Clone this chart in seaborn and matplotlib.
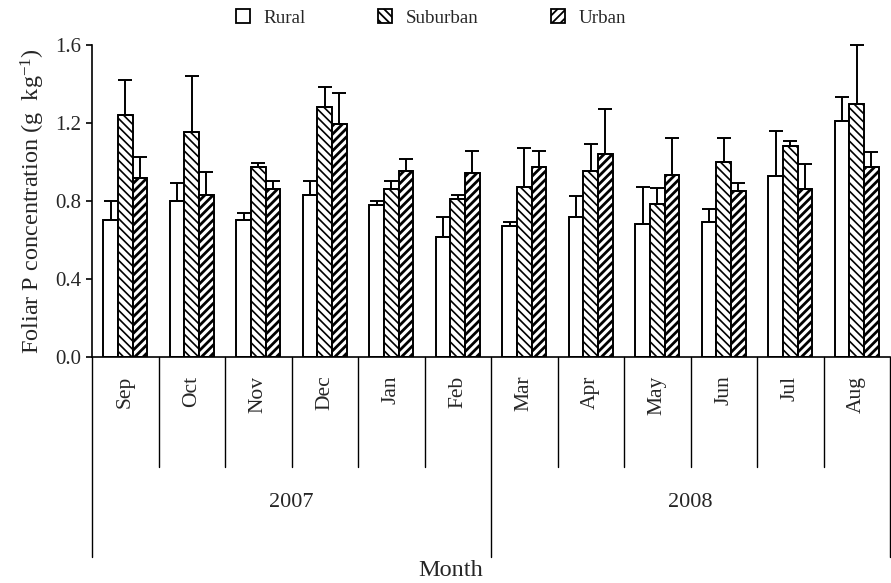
import pandas as pd
import numpy as np
import matplotlib
matplotlib.use('Agg')
import matplotlib.pyplot as plt
import matplotlib.transforms as mtransforms
from matplotlib.patches import Patch
import seaborn as sns

# values (g kg-1), error bars are one-sided (upper)
months = ['Sep', 'Oct', 'Nov', 'Dec', 'Jan', 'Feb', 'Mar', 'Apr', 'May', 'Jun', 'Jul', 'Aug']
years = ['2007', '2008']
sites = ['Rural', 'Suburban', 'Urban']

rural = [0.70, 0.80, 0.70, 0.83, 0.78, 0.615, 0.67, 0.72, 0.68, 0.69, 0.93, 1.21]
rural_err = [0.10, 0.09, 0.04, 0.07, 0.02, 0.105, 0.02, 0.105, 0.19, 0.07, 0.23, 0.125]
suburban = [1.24, 1.155, 0.975, 1.28, 0.86, 0.81, 0.87, 0.955, 0.785, 1.00, 1.08, 1.30]
suburban_err = [0.18, 0.285, 0.02, 0.105, 0.04, 0.02, 0.20, 0.135, 0.08, 0.125, 0.03, 0.30]
urban = [0.92, 0.83, 0.86, 1.195, 0.955, 0.945, 0.975, 1.04, 0.935, 0.85, 0.86, 0.975]
urban_err = [0.105, 0.12, 0.04, 0.16, 0.06, 0.11, 0.08, 0.23, 0.19, 0.04, 0.13, 0.075]

yticks = [0.0, 0.4, 0.8, 1.2, 1.6]

sns.set_theme(style='ticks')
plt.rcParams['font.family'] = ['Liberation Serif', 'DejaVu Serif']
plt.rcParams['mathtext.fontset'] = 'custom'
plt.rcParams['mathtext.rm'] = 'Liberation Serif'
plt.rcParams['mathtext.it'] = 'Liberation Serif:italic'
plt.rcParams['hatch.linewidth'] = 1.3
plt.rcParams['hatch.color'] = 'black'

df = pd.DataFrame({
    'Month': months * 3,
    'Site': [s for s in sites for _ in months],
    'Value': rural + suburban + urban,
})
errs = [rural_err, suburban_err, urban_err]
hatches = ['', '\\\\\\\\', '////']
hatch_lw = [1.0, 1.2, 2.0]

fig = plt.figure(figsize=(8.91, 5.83), dpi=100)
ax = fig.add_axes([0.1033, 0.3877, 0.8956, 0.5351])

sns.barplot(data=df, x='Month', y='Value', hue='Site', order=months, hue_order=sites,
            palette=['white'] * 3, saturation=1, edgecolor='black', linewidth=1.4,
            width=0.66, errorbar=None, legend=False, ax=ax)

for cont, h, hl, err in zip(ax.containers, hatches, hatch_lw, errs):
    xs, hs = [], []
    for bar in cont:
        bar.set_hatch(h)
        bar.set_edgecolor('black')
        if hasattr(bar, 'set_hatch_linewidth'):
            bar.set_hatch_linewidth(hl)
        xs.append(bar.get_x() + bar.get_width() / 2)
        hs.append(bar.get_height())
    ax.errorbar(xs, hs, yerr=[np.zeros(len(err)), err], fmt='none', ecolor='black',
                elinewidth=1.4, capsize=5, capthick=1.4, clip_on=False, zorder=1)

ax.set_xlim(-0.5, len(months) - 0.5)
ax.set_ylim(0, 1.6)
ax.set_yticks(yticks)
ax.set_yticklabels([f'{t:.1f}' for t in yticks], fontsize=15)
ax.tick_params(axis='y', direction='out', length=4, width=1.2, color='black')
ax.set_xticks([])
ax.set_xlabel('')
ax.set_ylabel('Foliar P concentration (g  kg$^{-1}$)', fontsize=17.5, labelpad=6)
sns.despine(ax=ax)
for sp in ['left', 'bottom']:
    ax.spines[sp].set_color('black')
    ax.spines[sp].set_linewidth(1.2)

# hierarchical x axis: month cells, then year cells
trans = mtransforms.blended_transform_factory(ax.transData, ax.transAxes)
month_bottom = -0.353
year_bottom = -0.641
for i in range(1, len(months)):
    if i == 6:
        continue
    ax.plot([i - 0.5, i - 0.5], [0, month_bottom], color='black', lw=1.0,
            transform=trans, clip_on=False)
for xv in [-0.5, 5.5, 11.5]:
    ax.plot([xv, xv], [0, year_bottom], color='black', lw=1.0,
            transform=trans, clip_on=False)
for i, m in enumerate(months):
    ax.text(i, -0.06, m, rotation=90, ha='center', va='top', fontsize=15.5,
            transform=trans)
for j, yr in enumerate(years):
    ax.text(2.5 + 6 * j, -0.465, yr, ha='center', va='center', fontsize=16,
            transform=trans)
ax.text(0.45, -0.685, 'Month', ha='center', va='center', fontsize=17.5,
        transform=ax.transAxes)

handles = [Patch(facecolor='white', edgecolor='black', hatch=h, linewidth=1.3) for h in hatches]
fig.legend(handles, sites, loc='center', bbox_to_anchor=(0.4837, 0.969), ncol=3,
           frameon=False, fontsize=13.7, handlelength=0.75, handleheight=0.75,
           handletextpad=0.7, columnspacing=3.8)

fig.savefig('out.png', dpi=100)
